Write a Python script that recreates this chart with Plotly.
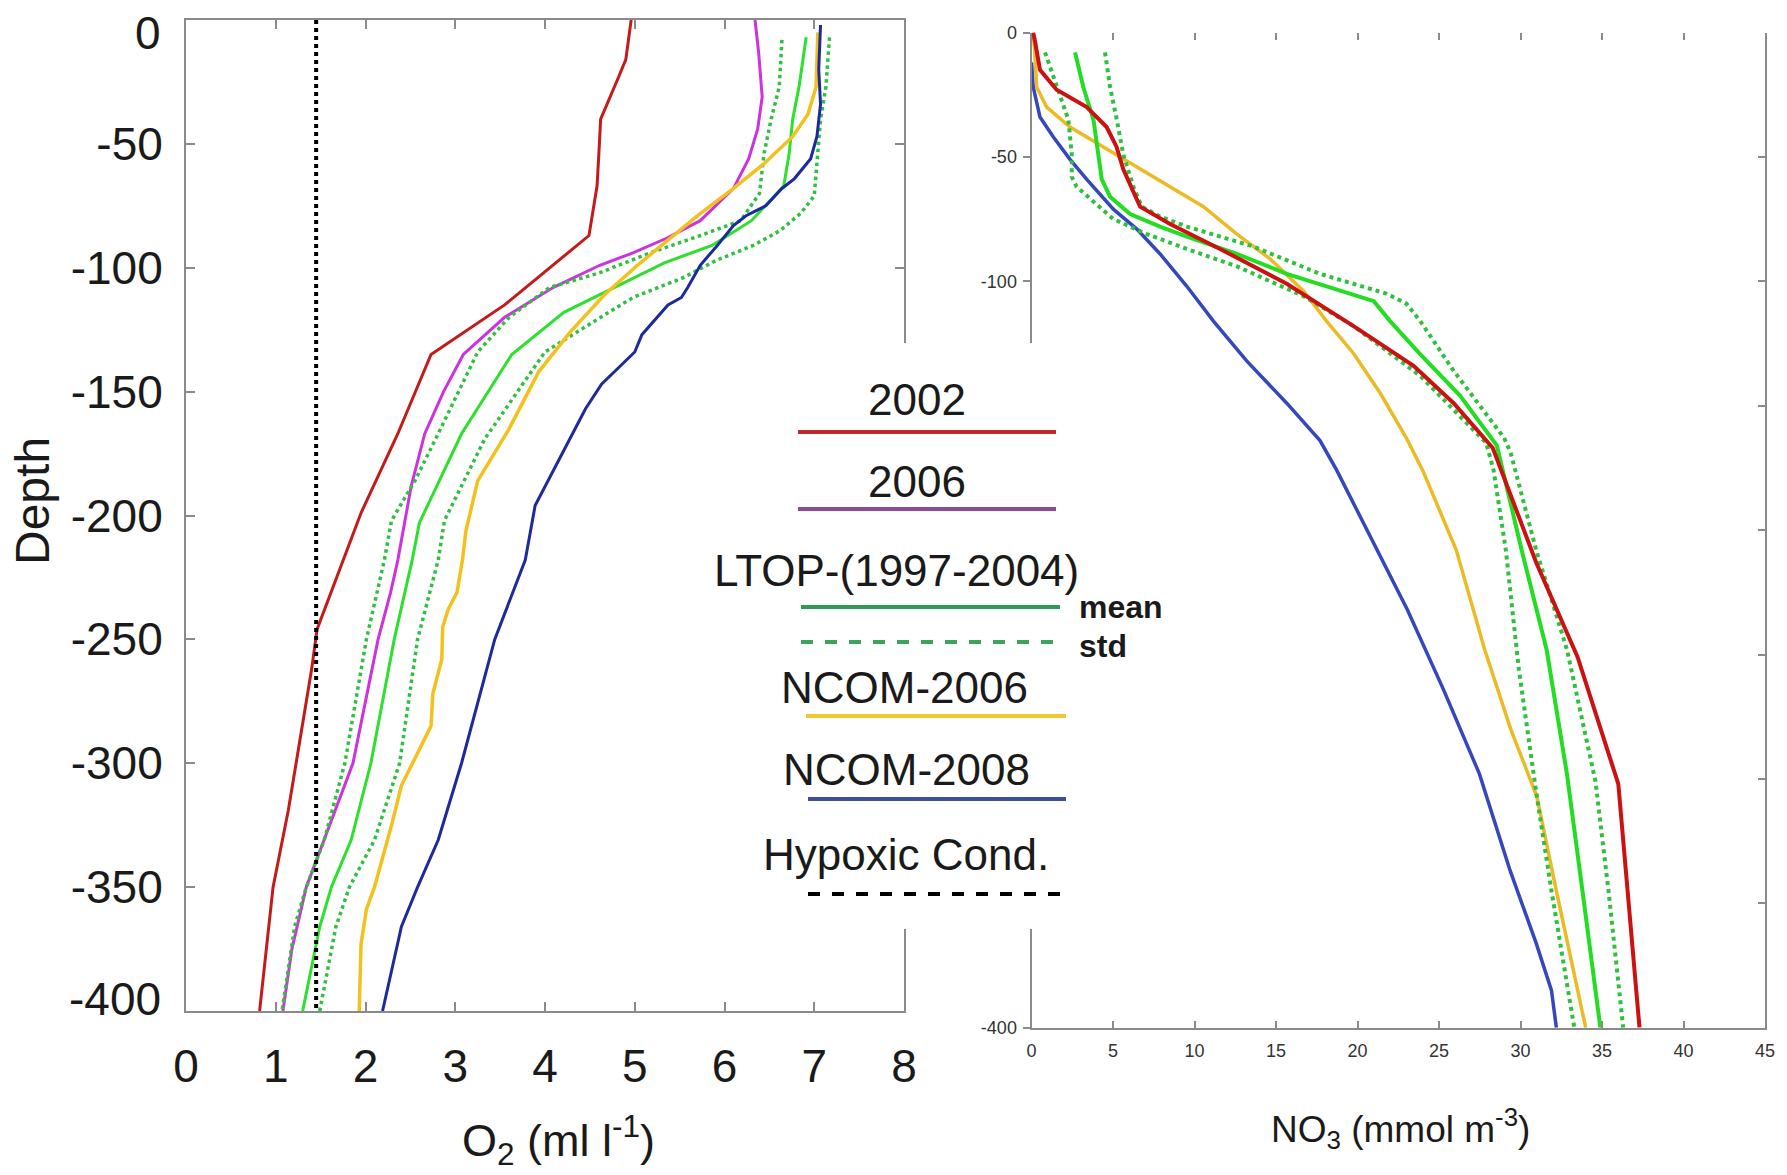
import plotly.graph_objects as go

W, H = 1787, 1175

# ---------------- O2 panel (left) ----------------
o2_2002_depth = [0, -3, -16, -23, -31, -40, -54, -67, -87, -115, -135, -167, -199, -231, -246, -262, -290, -319, -350, -367, -400]
o2_2002 = [4.96, 4.95, 4.90, 4.82, 4.73, 4.62, 4.60, 4.58, 4.49, 3.55, 2.73, 2.36, 1.95, 1.62, 1.46, 1.40, 1.27, 1.14, 0.97, 0.92, 0.82]

o2_2006_depth = [0, -13, -31, -44, -56, -68, -81, -88, -94, -99, -108, -120, -135, -150, -167, -178, -188, -202, -218, -231, -250, -300, -331, -350, -375, -400]
o2_2006 = [6.34, 6.38, 6.42, 6.37, 6.27, 6.10, 5.73, 5.36, 4.98, 4.61, 4.09, 3.55, 3.09, 2.87, 2.66, 2.58, 2.51, 2.44, 2.36, 2.28, 2.14, 1.86, 1.54, 1.34, 1.18, 1.08]

ltop_o2_mean_depth = [-7, -27, -40, -54, -67, -81, -91, -98, -108, -118, -135, -167, -203, -218, -250, -300, -331, -350, -366, -400]
ltop_o2_mean = [6.91, 6.83, 6.76, 6.72, 6.66, 6.30, 5.86, 5.33, 4.77, 4.21, 3.63, 3.07, 2.60, 2.52, 2.32, 2.06, 1.84, 1.62, 1.49, 1.30]

ltop_o2_lo_depth = [-8, -27, -40, -54, -70, -81, -87, -94, -102, -108, -120, -134, -167, -186, -202, -218, -250, -300, -331, -350, -366, -400]
ltop_o2_lo = [6.64, 6.61, 6.52, 6.44, 6.39, 6.18, 5.73, 5.17, 4.61, 4.05, 3.60, 3.25, 2.81, 2.55, 2.29, 2.21, 2.01, 1.77, 1.54, 1.34, 1.21, 1.07]

ltop_o2_hi_depth = [-7, -27, -40, -60, -71, -78, -85, -91, -97, -104, -112, -120, -134, -169, -202, -218, -250, -300, -331, -350, -366, -400]
ltop_o2_hi = [7.17, 7.13, 7.07, 7.03, 7.00, 6.85, 6.62, 6.32, 5.91, 5.54, 4.98, 4.62, 4.00, 3.33, 2.88, 2.81, 2.58, 2.38, 2.10, 1.82, 1.67, 1.49]

ncom06_o2_depth = [-5, -27, -38, -47, -58, -68, -79, -89, -99, -111, -126, -142, -165, -186, -206, -218, -231, -238, -245, -258, -272, -285, -293, -301, -309, -325, -339, -350, -359, -373, -400]
ncom06_o2 = [7.04, 7.02, 6.93, 6.76, 6.44, 6.10, 5.70, 5.36, 5.03, 4.66, 4.28, 3.93, 3.60, 3.25, 3.12, 3.08, 3.02, 2.92, 2.86, 2.85, 2.75, 2.73, 2.62, 2.51, 2.40, 2.29, 2.18, 2.10, 2.01, 1.95, 1.93]

ncom08_o2_depth = [-2, -20, -34, -47, -56, -64, -68, -75, -79, -83, -91, -99, -108, -112, -115, -127, -134, -147, -157, -169, -196, -218, -231, -250, -300, -331, -350, -366, -400]
ncom08_o2 = [7.07, 7.05, 7.07, 7.03, 6.96, 6.78, 6.64, 6.46, 6.24, 6.10, 5.92, 5.73, 5.59, 5.52, 5.37, 5.08, 5.00, 4.63, 4.45, 4.28, 3.89, 3.78, 3.64, 3.44, 3.07, 2.81, 2.58, 2.40, 2.19]

hypoxic_o2 = [1.45, 1.45]
hypoxic_depth = [0, -400]

# ---------------- NO3 panel (right) ----------------
no3_2002_depth = [0, -3, -15, -23, -30, -38, -46, -55, -70, -77, -87, -101, -118, -134, -149, -167, -213, -251, -302, -400]
no3_2002 = [0.1, 0.2, 0.52, 1.54, 3.39, 4.61, 5.22, 5.63, 6.66, 8.50, 11.57, 15.66, 19.76, 23.44, 25.9, 28.3, 30.96, 33.5, 36.0, 37.3]

ltop_no3_mean_depth = [-8, -22, -35, -49, -59, -66, -73, -78, -82, -89, -97, -108, -116, -129, -146, -166, -208, -248, -298, -345, -400]
ltop_no3_mean = [2.67, 3.18, 3.80, 4.10, 4.31, 4.82, 6.05, 7.89, 9.53, 12.6, 15.66, 21.0, 22.0, 23.8, 26.3, 28.55, 30.07, 31.6, 32.85, 33.8, 34.9]

ltop_no3_lo_depth = [-8, -22, -35, -49, -58, -62, -70, -75, -81, -87, -94, -106, -118, -138, -165, -176, -208, -256, -307, -345, -400]
ltop_no3_lo = [0.83, 1.54, 2.26, 2.47, 2.47, 2.77, 4.2, 5.02, 7.07, 9.53, 12.6, 16.7, 19.76, 23.85, 27.9, 28.35, 29.1, 29.9, 31.0, 31.9, 33.3]

ltop_no3_hi_depth = [-8, -22, -35, -49, -62, -70, -74, -78, -86, -97, -105, -109, -116, -136, -163, -169, -208, -248, -301, -345, -400]
ltop_no3_hi = [4.51, 4.82, 5.23, 5.63, 6.25, 6.76, 7.89, 9.53, 13.6, 17.7, 21.8, 23.0, 23.85, 25.9, 29.0, 29.4, 30.96, 32.85, 34.6, 35.4, 36.3]

ncom06_no3_depth = [0, -8, -22, -30, -38, -46, -54, -62, -70, -81, -91, -104, -116, -129, -145, -163, -176, -208, -248, -280, -307, -345, -400]
ncom06_no3 = [0.1, 0.2, 0.32, 0.93, 2.36, 4.41, 6.46, 8.5, 10.55, 12.6, 14.64, 16.7, 18.1, 19.76, 21.4, 23.0, 24.0, 26.06, 27.8, 29.4, 31.0, 32.2, 34.0]

ncom08_no3_depth = [-12, -22, -34, -42, -51, -59, -71, -79, -89, -102, -116, -132, -149, -164, -176, -208, -232, -264, -298, -337, -366, -385, -400]
ncom08_no3 = [0.0, 0.11, 0.52, 1.34, 2.36, 3.39, 5.02, 6.46, 7.89, 9.53, 11.16, 13.2, 15.66, 17.7, 18.73, 21.17, 23.06, 25.27, 27.48, 29.37, 30.96, 31.9, 32.2]

# ---------------- tick labels / legend text ----------------
depth_ticks = [0, -50, -100, -150, -200, -250, -300, -350, -400]
# end labels of the left panel are drawn nudged inside the frame (as in the reference), see below
depth_ticktext_left = ["", "-50", "-100", "-150", "-200", "-250", "-300", "-350", ""]
depth_end_labels = ["0", "-400"]
# labels of the right panel that sit under the legend panel are not visible in the reference
depth_ticktext_right = ["0", "-50", "-100", "", "", "", "", "", "-400"]
o2_ticks = [0, 1, 2, 3, 4, 5, 6, 7, 8]
no3_ticks = [0, 5, 10, 15, 20, 25, 30, 35, 40, 45]

legend_labels = ["2002", "2006", "LTOP-(1997-2004)", "NCOM-2006", "NCOM-2008", "Hypoxic Cond."]


def px(X):
    return X / W


def py(Y):
    return 1 - Y / H


FONT = "Liberation Sans, Arial, sans-serif"
AX = "#8a8a8a"
TXT = "#1a1a1a"

fig = go.Figure()

left = [
    (o2_2002, o2_2002_depth, "#c41a1a", "solid", 3),
    (o2_2006, o2_2006_depth, "#cc33dd", "solid", 3),
    (ltop_o2_lo, ltop_o2_lo_depth, "#30c040", "dot", 3.5),
    (ltop_o2_hi, ltop_o2_hi_depth, "#30c040", "dot", 3.5),
    (ltop_o2_mean, ltop_o2_mean_depth, "#2ee02e", "solid", 3),
    (ncom06_o2, ncom06_o2_depth, "#f2c11d", "solid", 3.5),
    (ncom08_o2, ncom08_o2_depth, "#1c2a9c", "solid", 3),
    (hypoxic_o2, hypoxic_depth, "#000000", "dot", 4),
]
for x, y, c, d, w in left:
    fig.add_trace(go.Scatter(x=x, y=y, mode="lines", line=dict(color=c, dash=d, width=w),
                             xaxis="x", yaxis="y", hoverinfo="skip"))

right = [
    (ncom08_no3, ncom08_no3_depth, "#3447bd", "solid", 3.5),
    (ncom06_no3, ncom06_no3_depth, "#ebba25", "solid", 3.5),
    (ltop_no3_lo, ltop_no3_lo_depth, "#30c040", "dot", 4),
    (ltop_no3_hi, ltop_no3_hi_depth, "#30c040", "dot", 4),
    (ltop_no3_mean, ltop_no3_mean_depth, "#22dd22", "solid", 4),
    (no3_2002, no3_2002_depth, "#cc1111", "solid", 4),
]
for x, y, c, d, w in right:
    fig.add_trace(go.Scatter(x=x, y=y, mode="lines", line=dict(color=c, dash=d, width=w),
                             xaxis="x2", yaxis="y2", hoverinfo="skip"))

# empty trace so the overlay (top / right) axes of the right panel are drawn
fig.add_trace(go.Scatter(x=[None], y=[None], mode="lines", xaxis="x3", yaxis="y3", hoverinfo="skip"))

big = dict(family=FONT, size=46, color=TXT)
small = dict(family=FONT, size=18, color="#333333")

fig.update_layout(
    width=W, height=H, margin=dict(l=0, r=0, t=0, b=0, autoexpand=False),
    paper_bgcolor="white", plot_bgcolor="white", showlegend=False,
    xaxis=dict(domain=[px(186), px(904)], range=[0, 8], anchor="y", automargin=False,
               tickvals=o2_ticks, ticktext=[str(v) for v in o2_ticks],
               ticks="inside", ticklen=9, tickwidth=2, tickcolor=AX,
               showline=True, linecolor=AX, linewidth=2, mirror="ticks",
               showgrid=False, zeroline=False, tickfont=big, ticklabelstandoff=14,
               ticklabeloverflow="allow"),
    yaxis=dict(domain=[py(1011), py(20)], range=[-400, 0], anchor="x", automargin=False,
               tickvals=depth_ticks, ticktext=depth_ticktext_left,
               ticks="inside", ticklen=9, tickwidth=2, tickcolor=AX,
               showline=True, linecolor=AX, linewidth=2, mirror="ticks",
               showgrid=False, zeroline=False, tickfont=big, ticklabelstandoff=12,
               ticklabeloverflow="allow"),
    xaxis2=dict(domain=[px(1031.5), px(1765)], range=[0, 45], anchor="y2", automargin=False,
                tickvals=no3_ticks, ticktext=[str(v) for v in no3_ticks],
                ticks="inside", ticklen=7, tickwidth=2, tickcolor=AX,
                showline=True, linecolor=AX, linewidth=2,
                showgrid=False, zeroline=False, tickfont=small, ticklabelstandoff=6,
                ticklabeloverflow="allow"),
    yaxis2=dict(domain=[py(1027.7), py(32.5)], range=[-400, 0], anchor="x2", automargin=False,
                tickvals=depth_ticks, ticktext=depth_ticktext_right,
                ticks="outside", ticklen=7, tickwidth=2, tickcolor=AX,
                showline=True, linecolor=AX, linewidth=2,
                showgrid=False, zeroline=False, tickfont=small, ticklabelstandoff=2,
                ticklabeloverflow="allow"),
    xaxis3=dict(overlaying="x2", side="top", anchor="y3", range=[0, 45], automargin=False,
                tickvals=no3_ticks, ticks="inside", ticklen=7, tickwidth=2, tickcolor=AX,
                showline=False, showticklabels=False, showgrid=False, zeroline=False),
    yaxis3=dict(overlaying="y2", side="right", anchor="x3", range=[-400, 0], automargin=False,
                tickvals=depth_ticks, ticks="inside", ticklen=7, tickwidth=2, tickcolor=AX,
                showline=True, linecolor=AX, linewidth=2,
                showticklabels=False, showgrid=False, zeroline=False),
)

# white legend panel covering the inner frames
shapes = [dict(type="rect", xref="paper", yref="paper", x0=px(700), x1=px(1180), y0=py(929), y1=py(343),
               fillcolor="white", line=dict(width=0), layer="above")]
legend_lines = [
    (798, 1056, 432, "#c0282d", "solid"),
    (798, 1056, 509, "#8e4a99", "solid"),
    (801, 1060, 607, "#2e9a52", "solid"),
    (801, 1060, 642, "#3aa35c", "dash"),
    (806, 1066, 716, "#f0c830", "solid"),
    (808, 1066, 799, "#3b4ea0", "solid"),
    (808, 1063, 894, "#000000", "dash"),
]
for x0, x1, yy, c, d in legend_lines:
    shapes.append(dict(type="line", xref="paper", yref="paper", x0=px(x0), x1=px(x1), y0=py(yy), y1=py(yy),
                       line=dict(color=c, width=4, dash=d), layer="above"))
fig.update_layout(shapes=shapes)

leg_font = dict(family=FONT, size=44, color=TXT)
ann = []
for (xc, yc), t in zip([(917, 399), (917, 481), (897, 570), (904, 687), (906, 769), (906, 854)], legend_labels):
    ann.append(dict(text=t, x=px(xc), y=py(yc), xref="paper", yref="paper", xanchor="center", yanchor="middle",
                    showarrow=False, font=leg_font))
ann.append(dict(text="<b>mean</b>", x=px(1077), y=py(607), xref="paper", yref="paper", xanchor="left",
                yanchor="middle", showarrow=False, font=dict(family=FONT, size=32, color=TXT)))
ann.append(dict(text="<b>std</b>", x=px(1077), y=py(646), xref="paper", yref="paper", xanchor="left",
                yanchor="middle", showarrow=False, font=dict(family=FONT, size=32, color=TXT)))
# end labels of the left depth axis (kept inside the frame height like the reference)
for t, yy in zip(depth_end_labels, [33, 999]):
    ann.append(dict(text=t, x=px(163), y=py(yy), xref="paper", yref="paper", xanchor="right", yanchor="middle",
                    showarrow=False, font=big))
# axis titles
ann.append(dict(text="Depth", x=px(32), y=py(501), xref="paper", yref="paper", xanchor="center", yanchor="middle",
                textangle=-90, showarrow=False, font=dict(family=FONT, size=48, color=TXT)))
ann.append(dict(text="O<sub>2</sub> (ml l<sup>-1</sup>)", x=px(558), y=py(1140), xref="paper", yref="paper",
                xanchor="center", yanchor="middle", showarrow=False, font=dict(family=FONT, size=45, color=TXT)))
ann.append(dict(text="NO<sub>3</sub> (mmol m<sup>-3</sup>)", x=px(1400), y=py(1128), xref="paper", yref="paper",
                xanchor="center", yanchor="middle", showarrow=False, font=dict(family=FONT, size=37, color=TXT)))
fig.update_layout(annotations=ann)

fig.write_html("out.html")
